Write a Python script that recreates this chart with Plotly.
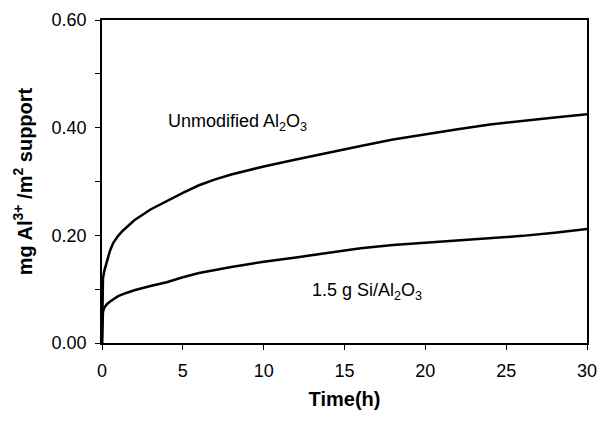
import plotly.graph_objects as go

# Unmodified Al2O3
t_unmod = [0, 0.03, 0.06, 0.15, 0.3, 0.5, 0.7, 1.0, 1.3, 2, 3, 4, 5, 6, 7, 8, 10, 12, 14, 16, 18, 20, 22, 24, 26, 28, 30]
y_unmod = [0, 0.09, 0.12, 0.135, 0.15, 0.172, 0.186, 0.199, 0.209, 0.228, 0.248, 0.264, 0.279, 0.293, 0.304, 0.313,
           0.328, 0.341, 0.354, 0.366, 0.378, 0.388, 0.397, 0.406, 0.413, 0.419, 0.425]

# 1.5 g Si/Al2O3
t_si = [0, 0.03, 0.06, 0.15, 0.3, 0.5, 1.0, 1.5, 2, 3, 4, 5, 6, 8, 10, 12, 14, 16, 18, 20, 22, 24, 26, 28, 30]
y_si = [0, 0.04, 0.058, 0.066, 0.072, 0.077, 0.087, 0.093, 0.098, 0.106, 0.113, 0.122, 0.13, 0.141, 0.151,
        0.159, 0.168, 0.176, 0.182, 0.186, 0.19, 0.194, 0.199, 0.205, 0.212]

x_ticks = [0, 5, 10, 15, 20, 25, 30]
y_ticks = [0.0, 0.2, 0.4, 0.6]
y_tick_labels = ["0.00", "0.20", "0.40", "0.60"]

FONT = "Liberation Sans, Arial, Helvetica, sans-serif"

fig = go.Figure()
fig.add_trace(go.Scatter(x=t_unmod, y=y_unmod, mode="lines", line=dict(color="black", width=2.5),
                         showlegend=False))
fig.add_trace(go.Scatter(x=t_si, y=y_si, mode="lines", line=dict(color="black", width=2.5),
                         showlegend=False))

fig.add_annotation(x=8.4, y=0.409, text="Unmodified Al<sub>2</sub>O<sub>3</sub>", showarrow=False,
                   font=dict(family=FONT, size=18, color="black"))
fig.add_annotation(x=16.4, y=0.095, text="1.5 g Si/Al<sub>2</sub>O<sub>3</sub>", showarrow=False,
                   font=dict(family=FONT, size=18, color="black"))

fig.update_layout(
    width=600, height=421,
    margin=dict(l=102, r=13, t=20, b=78),
    paper_bgcolor="white", plot_bgcolor="white",
    font=dict(family=FONT, color="black"),
)
fig.update_xaxes(
    range=[0, 30], tickvals=x_ticks, ticks="outside", ticklen=5, tickwidth=1, tickcolor="black",
    showline=True, linecolor="black", linewidth=1.5, mirror=True, showgrid=False, zeroline=False,
    automargin=False, ticklabelstandoff=6,
    tickfont=dict(family=FONT, size=18, color="black"),
    title=dict(text="<b>Time(h)</b>", font=dict(family=FONT, size=20, color="black"), standoff=12),
)
fig.update_yaxes(
    range=[0, 0.6], tickvals=y_ticks, ticktext=y_tick_labels, ticks="outside", ticklen=5, tickwidth=1,
    tickcolor="black",
    minor=dict(dtick=0.1, ticks="outside", ticklen=5, tickcolor="black", tickwidth=1),
    showline=True, linecolor="black", linewidth=1.5, mirror=True, showgrid=False, zeroline=False,
    automargin=False, ticklabelstandoff=5,
    tickfont=dict(family=FONT, size=18, color="black"),
    title=dict(text="<b>mg Al<sup>3+</sup> /m<sup>2</sup> support</b>",
               font=dict(family=FONT, size=20, color="black"), standoff=14),
)

fig.write_html("out.html")
